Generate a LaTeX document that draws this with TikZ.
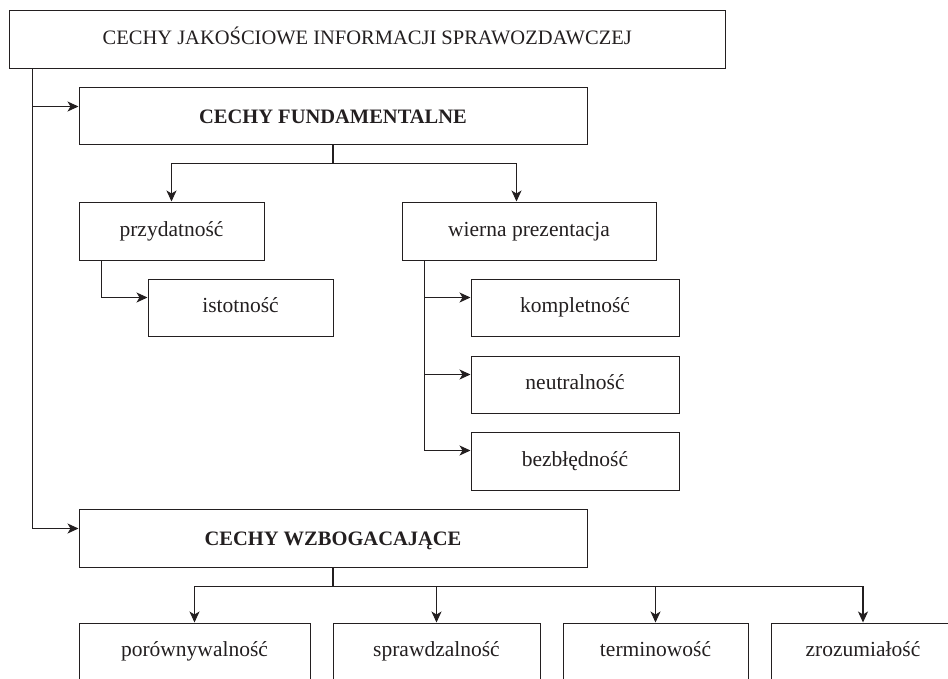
\documentclass[tikz,border=0pt]{standalone}
\usepackage{fontspec}
\setmainfont{Liberation Serif}
\usetikzlibrary{arrows.meta,calc}
\definecolor{ink}{HTML}{231F20}
\begin{document}
\begin{tikzpicture}[x=1pt,y=-1pt,
  box/.style={draw=ink, line width=1pt, inner sep=0pt, text=ink,
    font=\fontsize{21.5}{25}\selectfont, text height=14pt, text depth=4pt},
  capbox/.style={box, font=\fontsize{20.5}{24}\selectfont},
  bbox/.style={box, font=\bfseries\fontsize{20.5}{24}\selectfont, text height=15pt, text depth=0pt},
  conn/.style={draw=ink, line width=1.1pt},
  arr/.style={conn, -{Stealth[length=11pt,width=10pt,inset=3pt]}}]
\useasboundingbox (0,0) rectangle (948,678);

\node[capbox, minimum width=715.5pt, minimum height=58pt] (top) at (367.25,39) {CECHY JAKOŚCIOWE INFORMACJI SPRAWOZDAWCZEJ};
\node[bbox, minimum width=508pt, minimum height=57pt] (fund) at (333,115.5) {CECHY FUNDAMENTALNE};
\node[box, minimum width=185pt, minimum height=58pt] (przyd) at (171.5,231) {przydatność};
\node[box, minimum width=185pt, minimum height=57pt] (istot) at (240.5,307.5) {istotność};
\node[box, minimum width=254pt, minimum height=58pt] (wierna) at (529,231) {wierna prezentacja};
\node[box, minimum width=208pt, minimum height=57pt] (komp) at (575,307.5) {kompletność};
\node[box, minimum width=208pt, minimum height=57pt] (neutr) at (575,384.5) {neutralność};
\node[box, minimum width=208pt, minimum height=58pt] (bezb) at (575,461) {bezbłędność};
\node[bbox, minimum width=508pt, minimum height=58pt] (wzbog) at (333,538) {CECHY WZBOGACAJĄCE};
\node[box, minimum width=231pt, minimum height=57pt] (por) at (194.5,651.5) {porównywalność};
\node[box, minimum width=207pt, minimum height=57pt] (spr) at (436.5,651.5) {sprawdzalność};
\node[box, minimum width=185pt, minimum height=57pt] (term) at (655.5,651.5) {terminowość};
\node[box, minimum width=184pt, minimum height=57pt] (zroz) at (863,651.5) {zrozumiałość};

% main left spine
\draw[arr] ($(top.south west)+(23.5,0)$) |- ($(fund.north west)+(0,20)$);
\draw[arr] ($(top.south west)+(23.5,0)$) |- ($(wzbog.north west)+(0,20)$);

% fundamental branch
\draw[conn] (fund.south) -- ++(0,19) coordinate (f1);
\draw[arr] (f1) -| (przyd.north);
\draw[arr] (f1) -| ($(wierna.north west)+(115,0)$);
\draw[arr] ($(przyd.south west)+(23,0)$) |- ($(istot.north west)+(0,19)$);
\draw[arr] ($(wierna.south west)+(23,0)$) |- ($(komp.north west)+(0,19)$);
\draw[arr] ($(wierna.south west)+(23,0)$) |- ($(neutr.north west)+(0,19)$);
\draw[arr] ($(wierna.south west)+(23,0)$) |- ($(bezb.north west)+(0,19)$);

% enhancing branch
\draw[conn] (wzbog.south) -- ++(0,19) coordinate (w1);
\draw[arr] (w1) -| (por.north);
\draw[arr] (w1) -| (spr.north);
\draw[arr] (w1) -| (term.north);
\draw[arr] (w1) -| (zroz.north);
\end{tikzpicture}
\end{document}
